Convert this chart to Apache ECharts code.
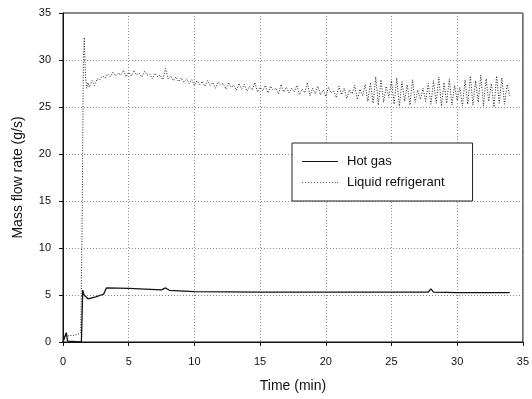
<!DOCTYPE html>
<html>
<head>
<meta charset="utf-8">
<script src="https://cdn.jsdelivr.net/npm/echarts@6/dist/echarts.min.js"></script>
<style>
html,body{margin:0;padding:0;background:#fff;}
#chart{width:532px;height:399px;}
</style>
</head>
<body>
<div id="chart"></div>
<script>
var xTicks = [0, 5, 10, 15, 20, 25, 30, 35];
var yTicks = [0, 5, 10, 15, 20, 25, 30, 35];

var hotGasTime = [0, 0.15, 0.25, 0.35, 0.5, 1.4, 1.5, 1.6, 1.9, 2.5, 2.9, 3.1, 3.3, 5, 7.5, 7.8, 8.1, 10, 15, 20, 25, 27.8, 28, 28.2, 30, 34];
var hotGasFlow = [0, 0.1, 1.0, 0.1, 0, 0, 5.5, 5.0, 4.6, 4.8, 5.0, 5.1, 5.75, 5.7, 5.55, 5.75, 5.5, 5.35, 5.3, 5.3, 5.3, 5.3, 5.65, 5.3, 5.25, 5.25];

var liquidTime = [
  0, 0.1, 0.2, 0.3, 0.5, 0.8, 1.1, 1.35, 1.45, 1.55, 1.62, 1.7, 1.8, 1.9, 2.0,
  2.2, 2.4, 2.6, 2.8, 3.0,
  3.2, 3.4, 3.6, 3.8, 4.0, 4.2, 4.4, 4.6, 4.8, 5.0,
  5.2, 5.4, 5.6, 5.8, 6.0, 6.2, 6.4, 6.6, 6.8, 7.0,
  7.2, 7.4, 7.6, 7.8, 8.0, 8.2, 8.4, 8.6, 8.8, 9.0,
  9.2, 9.4, 9.6, 9.8, 10.0, 10.2, 10.4, 10.6, 10.8, 11.0,
  11.2, 11.4, 11.6, 11.8, 12.0, 12.2, 12.4, 12.6, 12.8, 13.0,
  13.2, 13.4, 13.6, 13.8, 14.0, 14.2, 14.4, 14.6, 14.8, 15.0,
  15.2, 15.4, 15.6, 15.8, 16.0, 16.2, 16.4, 16.6, 16.8, 17.0,
  17.2, 17.4, 17.6, 17.8, 18.0, 18.2, 18.4, 18.6, 18.8, 19.0,
  19.2, 19.4, 19.6, 19.8, 20.0, 20.2, 20.4, 20.6, 20.8, 21.0,
  21.2, 21.4, 21.6, 21.8, 22.0, 22.2, 22.4, 22.6, 22.8, 23.0,
  23.2, 23.4, 23.6, 23.8, 24.0, 24.2, 24.4, 24.6, 24.8, 25.0,
  25.2, 25.4, 25.6, 25.8, 26.0, 26.2, 26.4, 26.6, 26.8, 27.0,
  27.2, 27.4, 27.6, 27.8, 28.0, 28.2, 28.4, 28.6, 28.8, 29.0,
  29.2, 29.4, 29.6, 29.8, 30.0, 30.2, 30.4, 30.6, 30.8, 31.0,
  31.2, 31.4, 31.6, 31.8, 32.0, 32.2, 32.4, 32.6, 32.8, 33.0,
  33.2, 33.4, 33.6, 33.8, 34.0
];
var liquidFlow = [
  0, 0.4, 0.9, 0.6, 0.7, 0.7, 0.8, 1.0, 12, 30, 32.4, 28.5, 27.0, 27.6, 27.1,
  27.8, 27.3, 28.0, 27.9, 28.3,
  28.1, 28.5, 28.2, 28.7, 28.3, 28.6, 28.4, 28.9, 28.2, 28.7,
  28.3, 28.9, 28.4, 28.6, 28.2, 28.8, 28.4, 28.5, 28.0, 28.6,
  28.2, 28.4, 27.9, 29.1, 28.0, 28.3, 27.8, 28.2, 27.7, 28.1,
  27.6, 28.0, 27.5, 27.9, 27.3, 27.8, 27.4, 27.7, 27.2, 27.8,
  27.3, 27.6, 27.0, 27.7, 27.4, 27.5, 26.9, 27.6, 27.1, 27.3,
  26.8, 27.5, 26.9, 27.4, 26.7, 27.2, 26.8, 27.6, 26.6, 27.1,
  26.7, 27.3, 26.5, 27.2, 26.8, 27.0, 26.4, 27.4, 26.6, 27.1,
  26.5, 27.0, 26.6, 27.3, 26.3, 26.9, 26.5, 27.6, 26.2, 27.0,
  26.4, 27.2, 26.3, 26.8, 26.1, 27.1, 26.5, 26.7, 26.0, 27.2,
  26.3, 27.0, 25.9, 26.8, 26.4, 27.3, 25.8, 26.9, 26.2, 27.4,
  25.6, 27.6, 25.4, 28.2, 25.2, 27.9, 25.5, 27.2, 26.0, 27.8,
  25.3, 28.1, 25.1, 27.7, 25.6, 27.4, 25.2, 27.9, 25.5, 26.8,
  25.8, 27.0, 25.6, 27.5, 25.3, 27.8, 25.4, 28.2, 25.1, 27.6,
  25.4, 28.0, 25.2, 27.3, 25.7, 27.1, 25.1, 27.9, 25.3, 28.3,
  25.2, 27.8, 25.5, 28.4, 25.1, 28.0, 25.6, 27.5, 25.0, 28.3,
  25.4, 28.1, 25.3, 27.4, 26.2
];

function pairs(xs, ys) {
  var out = [];
  for (var i = 0; i < xs.length; i++) out.push([xs[i], ys[i]]);
  return out;
}

var dotIcon = 'path://' +
  'M0,0h1v1h-1z M3,0h1v1h-1z M6,0h1v1h-1z M9,0h1v1h-1z M12,0h1v1h-1z M15,0h1v1h-1z ' +
  'M18,0h1v1h-1z M21,0h1v1h-1z M24,0h1v1h-1z M27,0h1v1h-1z M30,0h1v1h-1z M33,0h1v1h-1z M35,0h1v1h-1z';
var solidIcon = 'path://M0,0 L36,0 L36,1.2 L0,1.2 Z';

var font = '"Liberation Sans", Arial, sans-serif';
var chart = echarts.init(document.getElementById('chart'), null, {renderer: 'canvas'});
chart.setOption({
  animation: false,
  backgroundColor: '#fff',
  textStyle: {fontFamily: font, color: '#111'},
  grid: {left: 63, right: 5, top: 13, bottom: 57, show: true, borderColor: '#111', borderWidth: 1, backgroundColor: 'transparent'},
  legend: {
    orient: 'vertical',
    left: 292, top: 143,
    padding: [12, 28, 12, 10],
    itemGap: 8,
    itemWidth: 36, itemHeight: 12,
    borderColor: '#222', borderWidth: 1,
    backgroundColor: '#fff',
    textStyle: {fontFamily: font, fontSize: 13, color: '#111', padding: [0, 0, 0, 4]},
    data: [
      {name: 'Hot gas', icon: solidIcon, itemStyle: {color: '#111'}},
      {name: 'Liquid refrigerant', icon: dotIcon, itemStyle: {color: '#555'}}
    ]
  },
  xAxis: {
    type: 'value', min: 0, max: 35, interval: 5,
    name: 'Time (min)', nameLocation: 'middle', nameGap: 37,
    nameTextStyle: {fontFamily: font, fontSize: 14, color: '#111'},
    axisLine: {show: true, onZero: false, lineStyle: {color: '#111', width: 1}},
    axisTick: {show: true, inside: false, length: 4, lineStyle: {color: '#111'}},
    axisLabel: {fontFamily: font, fontSize: 11, color: '#111', margin: 14},
    splitLine: {show: true, lineStyle: {color: '#888', type: [1, 2], width: 1}}
  },
  yAxis: {
    type: 'value', min: 0, max: 35, interval: 5,
    name: 'Mass flow rate (g/s)', nameLocation: 'middle', nameGap: 38,
    nameTextStyle: {fontFamily: font, fontSize: 14, color: '#111'},
    axisLine: {show: true, lineStyle: {color: '#111', width: 1}},
    axisTick: {show: true, inside: false, length: 4, lineStyle: {color: '#111'}},
    axisLabel: {fontFamily: font, fontSize: 11, color: '#111', margin: 12},
    splitLine: {show: true, lineStyle: {color: '#888', type: [1, 2], width: 1}}
  },
  series: [
    {
      name: 'Hot gas', type: 'line', symbol: 'none',
      data: pairs(hotGasTime, hotGasFlow),
      lineStyle: {color: '#111', width: 1.3, type: 'solid'},
      itemStyle: {color: '#111'}
    },
    {
      name: 'Liquid refrigerant', type: 'line', symbol: 'none',
      data: pairs(liquidTime, liquidFlow),
      lineStyle: {color: '#222', width: 1, type: [1, 1.6]},
      itemStyle: {color: '#222'}
    }
  ]
});
</script>
</body>
</html>
